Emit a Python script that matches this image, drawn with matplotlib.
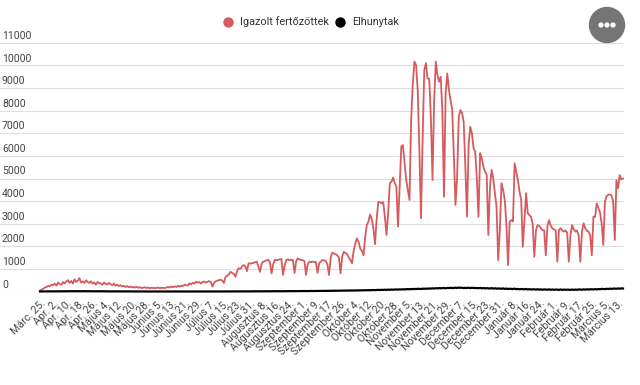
import matplotlib
matplotlib.use("Agg")
import matplotlib.pyplot as plt
from matplotlib.patches import Circle
from matplotlib.lines import Line2D

plt.rcParams['font.family'] = ['Roboto', 'DejaVu Sans']

# daily confirmed cases
cases = [
    40, 80, 120, 180, 200, 250, 230,
    300, 280, 350, 260, 400, 330, 300,
    420, 360, 450, 500, 380, 470, 350,
    540, 420, 480, 590, 400, 450, 380,
    500, 420, 380, 450, 350, 400, 300,
    420, 380, 350, 300, 400, 330, 310,
    380, 320, 280, 350, 260, 300, 240,
    280, 230, 250, 200, 240, 190, 220,
    180, 200, 170, 210, 160, 190, 150,
    170, 190, 150, 180, 140, 170, 150,
    160, 150, 180, 140, 170, 160, 150,
    180, 200, 170, 220, 190, 230, 200,
    250, 220, 260, 240, 300, 280, 260,
    360, 320, 380, 350, 430, 400, 420,
    350, 420, 440, 400, 430, 460, 420,
    220, 380, 450, 480, 500, 520, 480,
    380, 650, 700, 760, 870, 820, 780,
    650, 900, 1030, 1000, 1100, 1170, 1120,
    900, 1250, 1230, 1250, 1260, 1300, 1320,
    1100, 870, 1250, 1320, 1350, 1380, 1400,
    1300, 800, 1200, 1400, 1380, 1400, 1420,
    1440, 730, 1150, 1400, 1420, 1380, 1400,
    1400, 820, 1350, 1470, 1420, 1400, 1380,
    1350, 730, 1200, 1320, 1300, 1320, 1310,
    1300, 820, 1250, 1320, 1400, 1380, 1350,
    1200, 730, 1500, 1720, 1680, 1650, 1600,
    1500, 800, 1550, 1760, 1700, 1650, 1500,
    1400, 1250, 1800, 2130, 2350, 2200, 1900,
    1800, 1600, 2400, 2940, 3100, 3400, 3200,
    2800, 2090, 3200, 3970, 3950, 3900, 3950,
    3300, 2500, 3470, 4790, 4860, 5040, 4800,
    4640, 2870, 4640, 6410, 6480, 5690, 4930,
    4500, 4050, 7590, 9210, 10170, 10020, 8920,
    6260, 3240, 6800, 9800, 10100, 9430, 9400,
    7730, 4930, 8470, 10170, 9580, 9280, 9500,
    8000, 4190, 8770, 9650, 8920, 8470, 8030,
    6000, 3830, 5080, 7730, 8030, 7900, 7500,
    5500, 3310, 6500, 7290, 7000, 6340, 6190,
    5000, 3310, 6120, 5900, 5520, 5300, 5160,
    2500, 4640, 5380, 5000, 4350, 3750, 1390,
    2700, 4790, 4500, 4050, 3000, 1170, 3090,
    3160, 3100, 5670, 5300, 4930, 4420, 4050,
    1980, 3200, 4350, 3460, 3380, 3300, 3000,
    1540, 2710, 2940, 2900, 2800, 2720, 2700,
    1600, 2900, 3160, 2900, 2800, 2750, 2700,
    1320, 2720, 2800, 2700, 2650, 2700, 2600,
    1320, 2500, 2940, 2750, 2650, 2700, 2500,
    1320, 2650, 3020, 2800, 2700, 2650, 2500,
    1600, 3310, 3300, 3900, 3700, 3500, 3000,
    2060, 3970, 4220, 4270, 4300, 4250, 4000,
    2280, 4930, 4570, 5150, 4960, 5000,
]

# daily deaths
deaths = [
    2, 3, 4, 2, 5, 3, 6,
    5, 7, 4, 8, 6, 9, 7,
    10, 8, 12, 9, 11, 14, 10,
    12, 15, 11, 13, 10, 12, 14,
    11, 9, 12, 10, 13, 8, 10,
    9, 11, 8, 10, 7, 9, 6,
    8, 6, 7, 5, 6, 4, 5,
    4, 5, 3, 4, 2, 3, 4,
    2, 3, 1, 2, 3, 1, 2,
    1, 2, 0, 1, 2, 1, 0,
    1, 0, 2, 1, 0, 1, 1,
    0, 1, 0, 2, 1, 0, 1,
    1, 0, 1, 0, 1, 2, 0,
    1, 0, 1, 1, 0, 2, 1,
    0, 1, 2, 1, 0, 1, 2,
    1, 2, 1, 3, 2, 1, 2,
    3, 2, 4, 3, 2, 4, 3,
    4, 3, 5, 4, 6, 5, 4,
    6, 5, 7, 6, 8, 7, 5,
    8, 6, 9, 7, 10, 8, 9,
    10, 8, 12, 9, 11, 13, 10,
    12, 14, 11, 15, 13, 16, 14,
    15, 17, 14, 18, 16, 20, 17,
    19, 22, 18, 21, 24, 20, 23,
    25, 22, 27, 24, 28, 26, 30,
    28, 32, 29, 34, 31, 36, 33,
    38, 35, 40, 37, 42, 39, 44,
    45, 41, 48, 44, 50, 47, 52,
    55, 50, 58, 54, 60, 57, 63,
    65, 60, 68, 72, 66, 75, 70,
    78, 72, 82, 76, 85, 80, 88,
    90, 84, 95, 88, 98, 92, 102,
    105, 98, 110, 104, 115, 108, 120,
    118, 112, 125, 119, 130, 122, 135,
    128, 140, 132, 145, 138, 150, 142,
    148, 155, 140, 160, 150, 165, 152,
    158, 170, 155, 175, 160, 168, 150,
    162, 155, 170, 148, 165, 158, 150,
    155, 145, 160, 140, 152, 138, 148,
    140, 132, 150, 128, 142, 125, 135,
    130, 120, 138, 115, 128, 112, 120,
    118, 108, 125, 102, 115, 98, 110,
    105, 95, 112, 90, 102, 88, 98,
    95, 85, 100, 82, 94, 80, 90,
    88, 78, 95, 76, 90, 74, 85,
    84, 72, 90, 70, 86, 75, 82,
    80, 70, 88, 72, 85, 76, 90,
    88, 78, 95, 82, 98, 86, 100,
    98, 90, 105, 95, 110, 100, 115,
    112, 105, 120, 110, 125, 115, 130,
    128, 120, 135, 125, 140, 132,
]

date_labels = ["Márc. 25.", "Apr. 2.", "Apr. 10.", "Apr. 18.", "Apr. 26.",
               "Május 4.", "Május 12.", "Május 20.", "Május 28.",
               "Június 5.", "Június 13.", "Június 21.", "Június 29.",
               "Július 7.", "Július 15.", "Július 23.", "Július 31.",
               "Augusztus 8.", "Augusztus 16.", "Augusztus 24.",
               "Szeptember 1.", "Szeptember 9.", "Szeptember 17.", "Szeptember 26.",
               "Október 4.", "Október 12.", "Október 20.", "Október 28.",
               "November 5.", "November 13.", "November 21.", "November 29.",
               "December 7.", "December 15.", "December 23.", "December 31.",
               "Január 8.", "Január 16.", "Január 24.",
               "Február 1.", "Február 9.", "Február 17.", "Február 25.",
               "Március 5.", "Március 13."]
label_step = 8
y_ticks = list(range(0, 11001, 1000))

series_names = ["Igazolt fertőzöttek", "Elhunytak"]
red = "#d65a5e"

W, H = 640, 385
fig = plt.figure(figsize=(W / 100, H / 100), dpi=100)
ax_left, ax_right = 0, 624
ax_bottom, ax_top = 291.5, 42.9
ax = fig.add_axes([ax_left / W, (H - ax_bottom) / H,
                   (ax_right - ax_left) / W, (ax_bottom - ax_top) / H])

x = list(range(len(cases)))
# first point at px 40, last at px 623
ppu = (623 - 40) / (len(cases) - 1)
xmin = -40 / ppu
ax.set_xlim(xmin, xmin + (ax_right - ax_left) / ppu)
ax.set_ylim(0, 11000)

for v in y_ticks:
    ax.axhline(v, color="#dddddd", lw=0.8, zorder=0)
    ax.annotate(str(v), xy=(0, v), xycoords=("axes fraction", "data"),
                xytext=(2, 2), textcoords="offset pixels",
                ha="left", va="bottom", fontsize=7.6, color="#444444")

ax.plot(x, cases, color=red, lw=1.3, zorder=3, clip_on=False)
ax.plot(x, deaths, color="black", lw=1.6, zorder=4, clip_on=False)

for s in ax.spines.values():
    s.set_visible(False)
ax.set_yticks([])
tick_pos = [i * label_step for i in range(len(date_labels))]
ax.set_xticks(tick_pos)
ax.set_xticklabels(date_labels, rotation=45, ha="right", rotation_mode="anchor",
                   fontsize=7.6, color="#444444")
ax.tick_params(axis="x", length=0, pad=5)

# legend
for px, name, col in [(228, series_names[0], red), (340, series_names[1], "black")]:
    fig.add_artist(Line2D([px / W], [1 - 22 / H], marker="o", markersize=7.5,
                          color=col, markeredgewidth=0, transform=fig.transFigure))
    fig.text((px + 12) / W, 1 - 22 / H, name, ha="left", va="center",
             fontsize=7.8, color="#333333")

# menu button
cx, cy = 607, 25
btn_ax = fig.add_axes([(cx - 20) / W, 1 - (cy + 20) / H, 40 / W, 40 / H])
btn_ax.set_xlim(-20, 20)
btn_ax.set_ylim(-20, 20)
btn_ax.set_aspect("equal")
btn_ax.axis("off")
btn_ax.add_patch(Circle((0, 0), 17.5, color="#757575"))
for dx in (-6, 0, 6):
    btn_ax.add_patch(Circle((dx, 0), 1.9, color="white"))

fig.savefig("out.png", dpi=100)
